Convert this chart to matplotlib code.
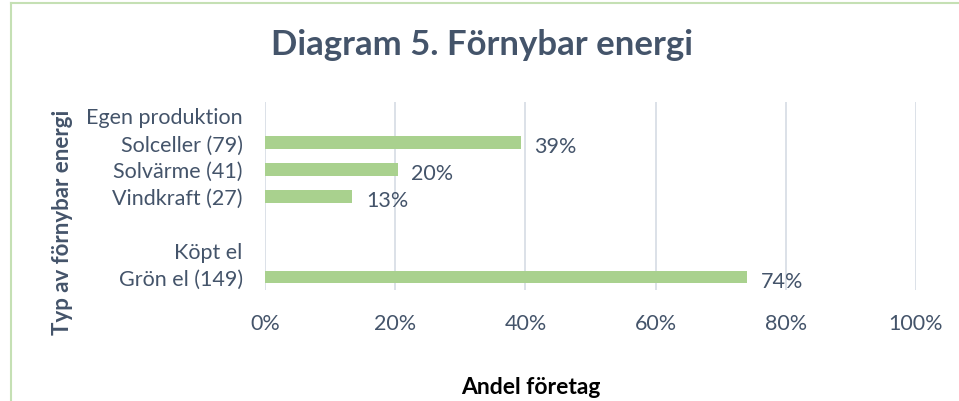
import matplotlib
matplotlib.use('Agg')
import matplotlib.pyplot as plt
import numpy as np

# categories from top to bottom, blank rows are group headers / spacing
categories = ['Egen produktion', 'Solceller (79)', 'Solvärme (41)', 'Vindkraft (27)', '', 'Köpt el', 'Grön el (149)']
shares = [None, 0.393, 0.204, 0.134, None, None, 0.741]
xticks = [0, 0.2, 0.4, 0.6, 0.8, 1.0]
xticklabels = ['0%', '20%', '40%', '60%', '80%', '100%']

text_col = '#44546A'
bar_col = '#A9D18E'
grid_col = '#D9DEE6'

plt.rcParams['font.family'] = ['Lato', 'DejaVu Sans']

fig = plt.figure(figsize=(9.59, 4.02), dpi=100)
ax = fig.add_axes([0.2763, 0.2749, 0.6789, 0.4689])

ypos = np.arange(len(categories))
for y, v in zip(ypos, shares):
    if v is None:
        continue
    ax.barh(y, v, height=0.48, color=bar_col, zorder=3)
    ax.text(v + 0.021, y + 0.13, '{:.0%}'.format(v), va='center', ha='left',
            fontsize=15.5, color=text_col)

ax.set_ylim(len(categories) - 0.5, -0.5)
ax.set_xlim(0, 1.0)
ax.set_yticks(ypos)
ax.set_yticklabels(categories, fontsize=15.5, color=text_col)
ax.set_xticks(xticks)
ax.set_xticklabels(xticklabels, fontsize=15.5, color=text_col)
ax.tick_params(axis='both', length=0)
ax.tick_params(axis='x', pad=16)
ax.tick_params(axis='y', pad=16)
ax.grid(True, axis='x', color=grid_col, linewidth=1.3, zorder=0)
for s in ax.spines.values():
    s.set_visible(False)

fig.text(0.503, 0.888, 'Diagram 5. Förnybar energi', ha='center', va='center',
         fontsize=25, fontweight='bold', color=text_col)
fig.text(0.065, 0.447, 'Typ av förnybar energi', ha='center', va='center',
         rotation=90, fontsize=16, fontweight='bold', color=text_col)
fig.text(0.554, 0.035, 'Andel företag', ha='center', va='center',
         fontsize=16.5, fontweight='bold', color='black')

# chart frame (left and top edge visible)
fig.add_artist(plt.Line2D([11 / 959, 11 / 959], [0, 1 - 4 / 402], color='#C5E0B4', lw=1.5))
fig.add_artist(plt.Line2D([11 / 959, 1], [1 - 4 / 402, 1 - 4 / 402], color='#C5E0B4', lw=1.5))

fig.savefig('out.png', dpi=100)
